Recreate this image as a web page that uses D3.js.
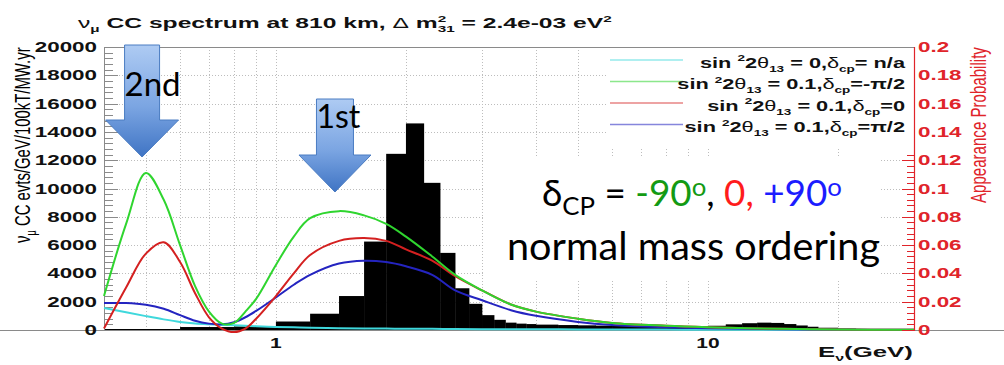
<!DOCTYPE html>
<html>
<head>
<meta charset="utf-8">
<script src="https://cdn.jsdelivr.net/npm/d3@7"></script>
<style>
  html, body { margin: 0; padding: 0; background: #fff; }
  svg { display: block; }
</style>
</head>
<body>
<svg id="chart" width="1004" height="365"></svg>
<script>
// ---- Spectrum histogram (events / GeV / 100 kT / MW.yr), variable-width energy bins (GeV) ----
const binEdges = [0.4, 0.6, 0.8, 1.0, 1.2, 1.4, 1.6, 1.8, 2.0, 2.2, 2.4, 2.6, 2.8, 3.0, 3.2, 3.4, 3.6, 3.8, 4.0,
                  4.5, 5, 5.5, 6, 7, 8, 9, 10, 11, 12, 13, 14, 15, 16, 17, 18, 20, 22, 25, 30];
const binCounts = [70, 210, 250, 600, 1150, 2400, 6250, 12450, 14600, 10400, 5450, 2950, 1850, 1050, 720, 520, 450, 420,
                   380, 350, 330, 310, 290, 270, 250, 260, 300, 400, 480, 520, 500, 420, 320, 230, 160, 100, 60, 30];

// ---- Appearance probability curves, sampled at these energies (GeV) ----
const energies = [0.4, 0.45, 0.5, 0.55, 0.6, 0.65, 0.7, 0.75, 0.8, 0.85, 0.9, 1.0, 1.1, 1.2, 1.4, 1.6, 1.8, 2.0,
                  2.3, 2.6, 3.0, 3.5, 4.0, 5.0, 6.0, 8.0, 10, 15, 20, 30];
const probTheta0 = [0.0155, 0.0125, 0.0098, 0.0075, 0.0057, 0.0046, 0.004, 0.0036, 0.0033, 0.003, 0.0027, 0.0022, 0.0019,
                    0.0016, 0.0013, 0.0011, 0.001, 0.0009, 0.0008, 0.0007, 0.0006, 0.0005, 0.0005, 0.0004, 0.0003,
                    0.0003, 0.0002, 0.0001, 0.0001, 0.0];
const probMinusHalfPi = [0.024, 0.075, 0.111, 0.092, 0.060, 0.031, 0.013, 0.0045, 0.005, 0.013, 0.022, 0.046, 0.066,
                         0.079, 0.084, 0.081, 0.075, 0.066, 0.052, 0.039, 0.028, 0.018, 0.013, 0.008, 0.005, 0.003,
                         0.002, 0.0008, 0.0004, 0.0001];
const probZero = [0.001, 0.030, 0.054, 0.062, 0.048, 0.026, 0.009, 0.001, -0.0015, 0.001, 0.008, 0.024, 0.040, 0.053,
                  0.063, 0.065, 0.063, 0.057, 0.049, 0.038, 0.028, 0.018, 0.013, 0.008, 0.005, 0.003, 0.002, 0.0008,
                  0.0004, 0.0001];
const probPlusHalfPi = [0.019, 0.019, 0.0178, 0.015, 0.0105, 0.0065, 0.0045, 0.004, 0.0055, 0.009, 0.0135, 0.023,
                        0.032, 0.039, 0.047, 0.049, 0.048, 0.045, 0.039, 0.028, 0.021, 0.014, 0.010, 0.0057, 0.0035,
                        0.002, 0.0013, 0.0005, 0.0003, 0.0001];

// ---- Legend text pieces ----
const sin2Values = ['0', '0.1', '0.1', '0.1'];
const deltaLabels = [' n/a', '-\u03c0/2', '0', '\u03c0/2'];
const seriesColors = ['#3fd8dc', '#2fd52f', '#d42020', '#2424c0'];

// ---- Axis tick labels ----
const leftTickValues = [0, 2000, 4000, 6000, 8000, 10000, 12000, 14000, 16000, 18000, 20000];
const rightTickValues = [0, 0.02, 0.04, 0.06, 0.08, 0.1, 0.12, 0.14, 0.16, 0.18, 0.2];
const rightTickLabels = ['0', '0.02', '0.04', '0.06', '0.08', '0.1', '0.12', '0.14', '0.16', '0.18', '0.2'];
const xTickValues = [1, 10];
const xTickLabels = ['1', '10'];

// ---- Annotation arrows at the oscillation maxima ----
const arrowLabels = ['2nd', '1st'];
const arrowEnergies = [0.49, 1.37];

const W = 1004, H = 365;
const svg = d3.select('#chart');
svg.append('rect').attr('width', W).attr('height', H).attr('fill', '#fff');

const x = d3.scaleLog().domain([0.4, 30]).range([104, 914]);
const yL = d3.scaleLinear().domain([0, 20000]).range([330, 47]);
const yR = d3.scaleLinear().domain([0, 0.2]).range([330, 47]);
const [plotL, plotR] = x.range();
const [plotB, plotT] = yL.range();

const rootFont = '"Liberation Sans", Arial, Helvetica, sans-serif';
const slideFont = 'Lato, "Open Sans", sans-serif';
const axisRed = '#e0242a';
const STRETCH = 1.55;

// ---- dotted grid ----
const grid = svg.append('g').attr('stroke', '#bdbdbd').attr('stroke-width', 1).attr('stroke-dasharray', '1,2');
x.ticks().filter(t => t > 0.4 && t < 30).forEach(t => {
  grid.append('line').attr('x1', Math.round(x(t)) + 0.5).attr('x2', Math.round(x(t)) + 0.5)
    .attr('y1', plotT).attr('y2', plotB);
});
leftTickValues.filter(v => v > 0 && v < 20000).forEach(v => {
  grid.append('line').attr('x1', plotL).attr('x2', plotR)
    .attr('y1', Math.round(yL(v)) + 0.5).attr('y2', Math.round(yL(v)) + 0.5);
});

// ---- histogram ----
svg.append('g').selectAll('rect').data(binCounts).join('rect')
  .attr('x', (d, i) => x(binEdges[i]))
  .attr('width', (d, i) => x(binEdges[i + 1]) - x(binEdges[i]) + 0.3)
  .attr('y', d => yL(d))
  .attr('height', d => yL(0) - yL(d))
  .attr('fill', '#000');

// ---- frame and axes ----
const frame = svg.append('g').attr('stroke', '#8a8a8a').attr('stroke-width', 1).attr('fill', 'none');
frame.append('line').attr('x1', plotL).attr('x2', plotR).attr('y1', plotT + 0.5).attr('y2', plotT + 0.5);
frame.append('line').attr('x1', plotL + 0.5).attr('x2', plotL + 0.5).attr('y1', plotT).attr('y2', plotB);
frame.append('line').attr('x1', 0).attr('x2', W).attr('y1', plotB + 0.5).attr('y2', plotB + 0.5);

// left axis ticks (major + minor)
d3.range(0, 20001, 400).forEach(v => {
  const major = v % 2000 === 0;
  frame.append('line').attr('x1', plotL).attr('x2', plotL + (major ? 14 : 9))
    .attr('y1', Math.round(yL(v)) + 0.5).attr('y2', Math.round(yL(v)) + 0.5);
});

// ---- probability curves ----
const seriesData = [probTheta0, probMinusHalfPi, probZero, probPlusHalfPi];
const line = d3.line()
  .x(d => x(d[0]))
  .y(d => yR(d[1]))
  .curve(d3.curveCatmullRom.alpha(0.5));
const drawOrder = [0, 3, 2, 1];
drawOrder.forEach(k => {
  svg.append('path')
    .datum(energies.map((e, i) => [e, seriesData[k][i]]))
    .attr('d', line)
    .attr('fill', 'none')
    .attr('stroke', seriesColors[k])
    .attr('stroke-width', 2)
    .attr('stroke-linejoin', 'round');
});

// ---- legend (opaque box over the grid) ----
const legend = svg.append('g');
legend.append('rect').attr('x', 607).attr('y', 48).attr('width', 306).attr('height', 100).attr('fill', '#fff');

// right (red) axis with inward ticks
const right = svg.append('g');
d3.range(0, 0.2001, 0.004).forEach(v => {
  const major = Math.abs(v / 0.02 - Math.round(v / 0.02)) < 1e-6;
  const yy = Math.round(yR(v)) + 0.5;
  if (yy < 150) return;
  right.append('line').attr('x1', plotR - (major ? 12 : 7)).attr('x2', plotR)
    .attr('y1', yy).attr('y2', yy).attr('stroke', axisRed).attr('stroke-width', 1);
});
right.append('line').attr('x1', plotR + 0.5).attr('x2', plotR + 0.5).attr('y1', plotT).attr('y2', plotB + 1)
  .attr('stroke', axisRed).attr('stroke-width', 1.2);

// ---- text helpers ----
// parts: [text, kind, dx] ; kind '' | 'sup' | 'sub' | 'greek'
function richText(parent, parts, size, opts = {}) {
  const t = parent.append('text')
    .attr('font-family', rootFont)
    .attr('font-weight', opts.weight || 'bold')
    .attr('font-size', size)
    .attr('fill', opts.fill || '#111')
    .attr('text-anchor', opts.anchor || 'start');
  let cur = 0;
  parts.forEach(p => {
    const [txt, kind, dx] = p;
    let target = 0, fs = size, fw = null;
    if (kind === 'sup') { target = -0.42 * size; fs = 0.62 * size; }
    if (kind === 'sub') { target = 0.28 * size; fs = 0.62 * size; }
    if (kind === 'greek') { fw = 'normal'; }
    const ts = t.append('tspan').attr('font-size', fs).attr('dy', target - cur).text(txt);
    if (fw) ts.attr('font-weight', fw);
    if (dx) ts.attr('dx', dx);
    cur = target;
  });
  return t;
}

// text laid out at (x, y) and stretched horizontally
function stretched(parts, size, xAt, yAt, sx, opts = {}) {
  const g = svg.append('g').attr('transform', `translate(${xAt},${yAt}) scale(${sx},1)`);
  return richText(g, parts, size, opts);
}
// text fitted between x0 and x1
function fitted(parts, size, x0, x1, yAt, opts = {}) {
  const g = svg.append('g');
  const t = richText(g, parts, size, opts);
  const w = t.node().getBBox().width;
  g.attr('transform', `translate(${x0},${yAt}) scale(${(x1 - x0) / w},1)`);
  return t;
}

// ---- title ----
fitted([
  ['\u03bd', 'greek'], ['\u03bc', 'sub'], [' CC spectrum at 810 km, ', ''], ['\u0394', 'greek'], [' m', ''],
  ['2', 'sup'], ['31', 'sub', -5], [' = 2.4e-03 eV', ''], ['2', 'sup']
], 14.5, 78, 612, 28);

// ---- legend entries ----
seriesColors.forEach((c, i) => {
  const yy = 67.5 + i * 21.5;
  legend.append('line').attr('x1', 610).attr('x2', 683).attr('y1', yy - 7.5).attr('y2', yy - 7.5)
    .attr('stroke', c).attr('stroke-width', 1.5).attr('opacity', 0.55);
  stretched([
    ['sin ', ''], ['2', 'sup'], ['2', ''], ['\u03b8', 'greek'], ['13', 'sub'], [' = ' + sin2Values[i] + ',', ''],
    ['\u03b4', 'greek'], ['cp', 'sub'], ['=' + deltaLabels[i], '']
  ], 14.5, 905, yy, 1.5, { anchor: 'end' });
});

// ---- left tick labels ----
leftTickValues.forEach(v => {
  stretched([[d3.format('d')(v), '']], 14, 97, yL(v) + 5, 1.6, { anchor: 'end' });
});
// ---- right tick labels ----
rightTickValues.forEach((v, i) => {
  stretched([[rightTickLabels[i], '']], 14, 918, yR(v) + 5, 1.6, { fill: axisRed });
});
// ---- x tick labels ----
xTickValues.forEach((v, i) => {
  stretched([[xTickLabels[i], '']], 14, x(v), 348, 1.5, { anchor: 'middle' });
});
// x axis title
fitted([['E', ''], ['\u03bd', 'sub'], ['(GeV)', '']], 14, 818, 913, 357);

// ---- rotated axis titles ----
function rotated(parts, size, xBase, yStart, yEnd, opts = {}) {
  const g = svg.append('g');
  const t = richText(g, parts, size, opts);
  const w = t.node().getBBox().width;
  g.attr('transform', `translate(${xBase},${yStart}) rotate(-90) scale(${(yStart - yEnd) / w},${STRETCH})`);
  return t;
}
rotated([['\u03bd', 'greek'], ['\u03bc', 'sub'], [' CC evts/GeV/100kT/MW.yr', '']], 14.5, 30, 243, 47,
  { weight: 'normal', fill: '#000' });
rotated([['Appearance Probability', '']], 14, 986, 203, 47, { weight: 'normal', fill: axisRed });

// ---- annotation box ----
const green = '#139a13', red = '#ff1c1c', blue = '#1c1cff';
svg.append('rect').attr('x', 483).attr('y', 157).attr('width', 398).attr('height', 124).attr('fill', '#fff');
function slideLine(build, cx, yAt, targetW) {
  const t = svg.append('text').attr('font-family', slideFont).attr('font-size', 37)
    .attr('text-anchor', 'middle').attr('x', cx).attr('y', yAt).attr('fill', '#000');
  build(t);
  const w = t.node().getBBox().width;
  t.attr('font-size', 37 * targetW / w);
  return t;
}
slideLine(t => {
  t.append('tspan').text('\u03b4');
  t.append('tspan').attr('font-size', '0.7em').attr('dy', '0.34em').text('CP');
  t.append('tspan').attr('dy', '-0.24em').text(' = ');
  t.append('tspan').attr('fill', green).text('-90');
  t.append('tspan').attr('fill', green).attr('font-size', '0.7em').attr('dy', '-0.4em').text('o');
  t.append('tspan').attr('dy', '0.28em').text(', ');
  t.append('tspan').attr('fill', red).text('0,');
  t.append('tspan').text(' ');
  t.append('tspan').attr('fill', blue).text('+90');
  t.append('tspan').attr('fill', blue).attr('font-size', '0.7em').attr('dy', '-0.4em').text('o');
}, 692, 206, 300);
slideLine(t => { t.text('normal mass ordering'); }, 693.5, 260, 373);

// ---- arrows ----
const defs = svg.append('defs');
const grad = defs.append('linearGradient').attr('id', 'arrowFill').attr('x1', 0).attr('y1', 0).attr('x2', 0).attr('y2', 1);
grad.append('stop').attr('offset', '0%').attr('stop-color', '#aecbf3');
grad.append('stop').attr('offset', '55%').attr('stop-color', '#7ba5e2');
grad.append('stop').attr('offset', '100%').attr('stop-color', '#3f74c4');

const arrowGeom = [
  { top: 45, neck: 120, tip: 157, shaft: 17.5, head: 36.5, labelY: 96, size: 33 },
  { top: 99, neck: 155, tip: 192, shaft: 18.5, head: 36, labelY: 128, size: 32 }
];
arrowLabels.forEach((lab, i) => {
  const g = arrowGeom[i];
  const cx = x(arrowEnergies[i]);
  const pts = [
    [cx - g.shaft, g.top], [cx + g.shaft, g.top], [cx + g.shaft, g.neck], [cx + g.head, g.neck],
    [cx, g.tip], [cx - g.head, g.neck], [cx - g.shaft, g.neck]
  ];
  svg.append('path').attr('d', d3.line()(pts) + 'Z')
    .attr('fill', 'url(#arrowFill)').attr('stroke', '#4a7cc2').attr('stroke-width', 1);
  svg.append('text').attr('font-family', slideFont).attr('font-size', g.size)
    .attr('x', cx - g.shaft).attr('y', g.labelY).attr('fill', '#000').text(lab);
});
</script>
</body>
</html>
